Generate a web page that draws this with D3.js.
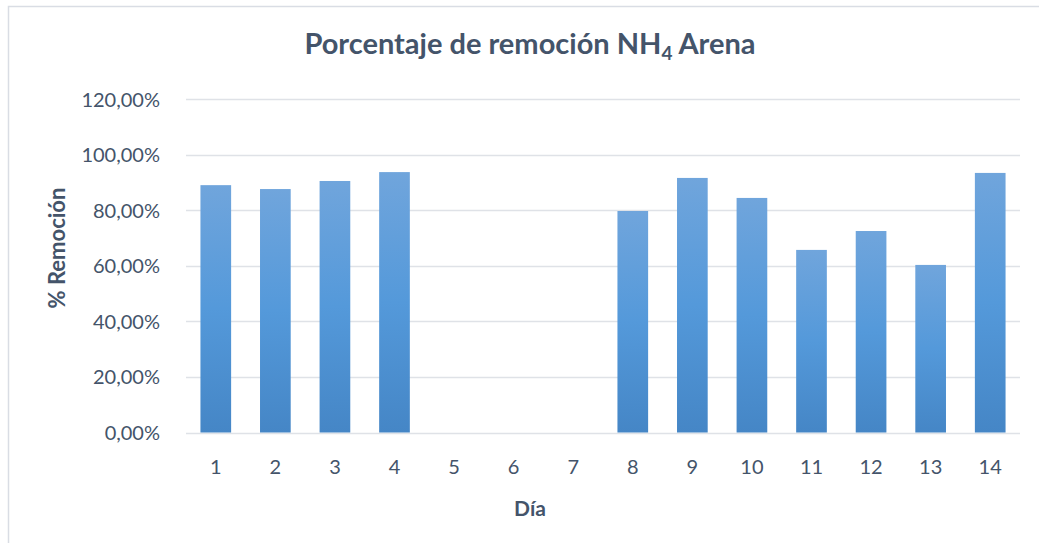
<!DOCTYPE html>
<html>
<head>
<meta charset="utf-8">
<script src="https://cdn.jsdelivr.net/npm/d3@7"></script>
<style>
  body { margin: 0; background: #fff; }
  text { font-family: Lato, "Open Sans", sans-serif; fill: #44546a; }
</style>
</head>
<body>
<script>
// Chart data
const days = ['1', '2', '3', '4', '5', '6', '7', '8', '9', '10', '11', '12', '13', '14'];
const removal = [0.890, 0.876, 0.905, 0.937, null, null, null, 0.797, 0.916, 0.844, 0.657, 0.725, 0.603, 0.934];
const yTicks = [0, 0.2, 0.4, 0.6, 0.8, 1.0, 1.2];

const width = 1039, height = 543;
const plot = {left: 186, right: 1020, top: 99, bottom: 432.5};

const svg = d3.select('body').append('svg')
  .attr('width', width)
  .attr('height', height);

// Gradient fill for the bars
const grad = svg.append('defs').append('linearGradient')
  .attr('id', 'barGrad')
  .attr('x1', 0).attr('y1', 0).attr('x2', 0).attr('y2', 1);
grad.append('stop').attr('offset', '0%').attr('stop-color', '#70a5dc');
grad.append('stop').attr('offset', '50%').attr('stop-color', '#5499da');
grad.append('stop').attr('offset', '100%').attr('stop-color', '#4586c6');

// Outer frame (top and left edges visible)
svg.append('path')
  .attr('d', 'M8.5,' + height + 'V6.5H' + width)
  .attr('fill', 'none')
  .attr('stroke', '#d9dde4')
  .attr('stroke-width', 1.5);

const x = d3.scaleBand()
  .domain(days)
  .range([plot.left, plot.right])
  .paddingInner(0.485)
  .paddingOuter(0.2425);

const y = d3.scaleLinear()
  .domain([0, 1.2])
  .range([plot.bottom, plot.top]);

const pct = d3.format('.2f');
const fmt = (d) => pct(d * 100).replace('.', ',') + '%';

// Gridlines
svg.append('g')
  .selectAll('line')
  .data(yTicks)
  .join('line')
  .attr('x1', plot.left)
  .attr('x2', plot.right)
  .attr('y1', (d) => Math.round(y(d)) + 0.5)
  .attr('y2', (d) => Math.round(y(d)) + 0.5)
  .attr('stroke', '#dfe2e7')
  .attr('stroke-width', 1.3);

// Y axis labels
const yAxis = svg.append('g')
  .attr('transform', 'translate(' + (plot.left - 23) + ',0)')
  .call(d3.axisLeft(y).tickValues(yTicks).tickFormat(fmt).tickSize(0));
yAxis.select('.domain').remove();
yAxis.selectAll('text')
  .attr('font-size', 20)
  .attr('dy', '0.35em')
  .style('font-family', 'Lato, sans-serif')
  .attr('fill', '#44546a');

// X axis labels
const xAxis = svg.append('g')
  .attr('transform', 'translate(0,' + plot.bottom + ')')
  .call(d3.axisBottom(x).tickSize(0));
xAxis.select('.domain').remove();
xAxis.selectAll('text')
  .attr('font-size', 20)
  .attr('y', 34)
  .attr('dy', '0.35em')
  .style('font-family', 'Lato, sans-serif')
  .attr('fill', '#44546a');

// Bars
svg.append('g')
  .selectAll('rect')
  .data(days.map((d, i) => ({day: d, v: removal[i]})).filter((d) => d.v != null))
  .join('rect')
  .attr('x', (d) => x(d.day))
  .attr('width', x.bandwidth())
  .attr('y', (d) => y(d.v))
  .attr('height', (d) => plot.bottom - y(d.v))
  .attr('fill', 'url(#barGrad)');

// Title
const title = svg.append('text')
  .attr('x', 530)
  .attr('y', 54)
  .attr('text-anchor', 'middle')
  .attr('font-size', 29)
  .attr('font-weight', 'bold');
title.append('tspan').text('Porcentaje de remoción NH');
title.append('tspan').attr('font-size', 19).attr('dy', 6).text('4');
title.append('tspan').attr('dy', -6).text(' Arena');

// Axis titles
svg.append('text')
  .attr('transform', 'translate(65,248) rotate(-90)')
  .attr('text-anchor', 'middle')
  .attr('font-size', 22)
  .attr('font-weight', 'bold')
  .text('% Remoción');

svg.append('text')
  .attr('x', 530)
  .attr('y', 516)
  .attr('text-anchor', 'middle')
  .attr('font-size', 21)
  .attr('font-weight', 'bold')
  .text('Día');
</script>
</body>
</html>
